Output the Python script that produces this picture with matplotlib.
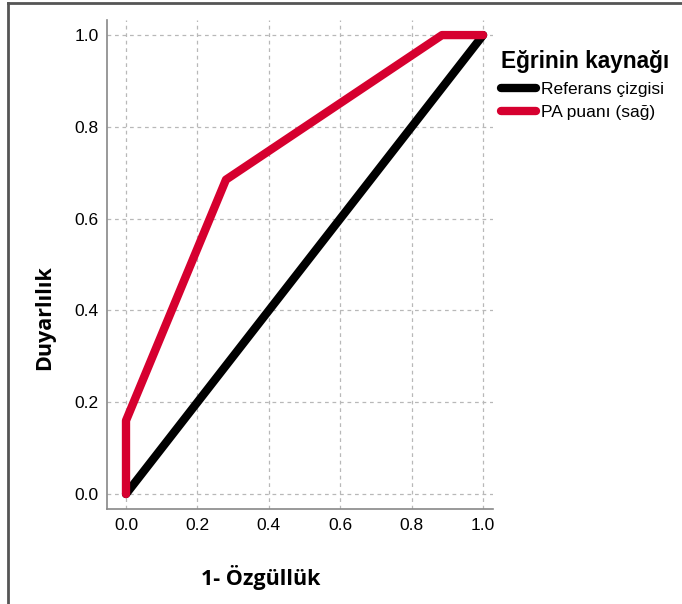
import matplotlib.pyplot as plt
from matplotlib.lines import Line2D

# ROC curve data
ref_x = [0.0, 1.0]
ref_y = [0.0, 1.0]
pa_x = [0.0, 0.0, 0.28, 0.885, 1.0]
pa_y = [0.0, 0.16, 0.685, 1.0, 1.0]
ticks = [0.0, 0.2, 0.4, 0.6, 0.8, 1.0]
tick_labels = ["0.0", "0.2", "0.4", "0.6", "0.8", "1.0"]

red = "#d6002f"

fig = plt.figure(figsize=(6.82, 6.04), dpi=100)
ax = fig.add_axes([0.157, 0.157, 0.566, 0.81])

ax.plot(ref_x, ref_y, color="black", lw=6, solid_capstyle="round",
        solid_joinstyle="round", label="Referans çizgisi", zorder=3)
ax.plot(pa_x, pa_y, color=red, lw=6, solid_capstyle="round",
        solid_joinstyle="round", label="PA puanı (sağ)", zorder=4)

ax.set_xlim(-0.053, 1.028)
ax.set_ylim(-0.033, 1.033)
ax.set_xticks(ticks)
ax.set_xticklabels(tick_labels, family="Liberation Sans", fontsize=12.5)
ax.set_yticks(ticks)
ax.set_yticklabels(tick_labels, family="Liberation Sans", fontsize=12.5)
ax.tick_params(axis="y", length=0, pad=6)
ax.tick_params(axis="x", length=0, pad=6)
ax.grid(True, ls=(0, (3, 3)), color="#b8b8b8", lw=0.9)

for side in ["top", "right"]:
    ax.spines[side].set_visible(False)
for side in ["left", "bottom"]:
    ax.spines[side].set_color("#888888")
    ax.spines[side].set_linewidth(1.2)

# axis titles placed in figure coordinates like the original
fig.text(261 / 682, 1 - 577 / 604, "1- Özgüllük", family="Open Sans",
         fontweight="bold", fontsize=15.5, ha="center", va="center")
fig.text(45 / 682, 1 - 318 / 604, "Duyarlılık", family="Open Sans",
         fontweight="bold", fontsize=15.5, ha="center", va="center",
         rotation=90)

leg = fig.legend(loc="upper left", bbox_to_anchor=(0.725, 0.928),
                 frameon=False, title="Eğrinin kaynağı",
                 prop={"family": "Liberation Sans", "size": 12.5},
                 handlelength=2.0, handletextpad=0.3, labelspacing=0.45,
                 borderaxespad=0)
leg.get_title().set_fontfamily("Liberation Sans")
leg.get_title().set_fontweight("bold")
leg.get_title().set_fontsize(16.3)
leg._legend_box.align = "left"
leg._legend_box.sep = 6
for h in leg.legend_handles:
    h.set_linewidth(6)
    h.set_solid_capstyle("round")

# frame lines at top and left edge of the figure
fig.add_artist(Line2D([0.012, 1.0], [0.995, 0.995], color="#555555", lw=2,
                      transform=fig.transFigure))
fig.add_artist(Line2D([0.012, 0.012], [0.0, 0.995], color="#555555", lw=2,
                      transform=fig.transFigure))

fig.savefig("out.png", dpi=100)
